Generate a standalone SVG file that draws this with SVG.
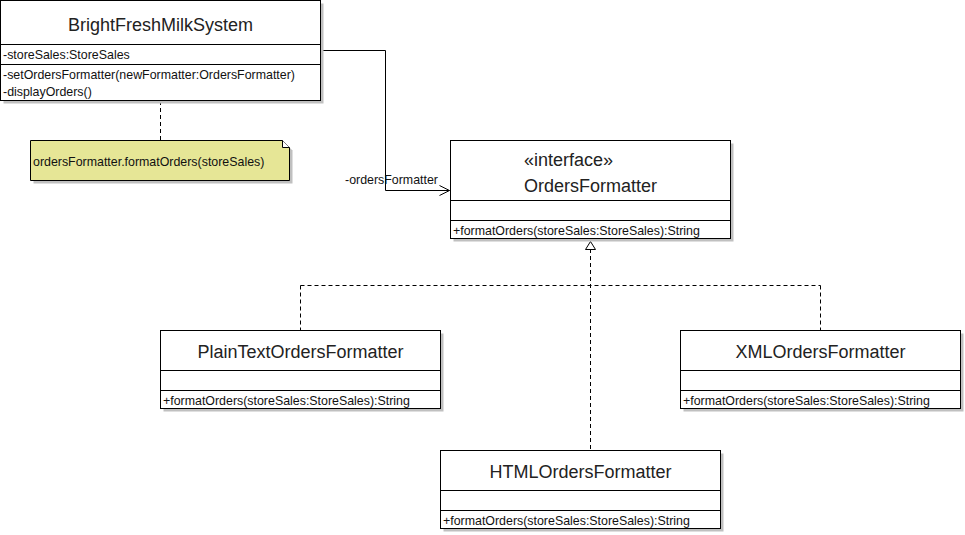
<svg xmlns="http://www.w3.org/2000/svg" width="965" height="535" viewBox="0 0 965 535">
<defs>
<style>
.box{fill:#ffffff;stroke:#000000;stroke-width:1}
.sh{fill:#c0c0c0;stroke:none}
.ln{stroke:#000000;stroke-width:1;fill:none}
.dash{stroke:#000000;stroke-width:1;fill:none;stroke-dasharray:4 3}
.title{font-family:"Liberation Sans",Arial,sans-serif;font-size:18px;fill:#222222}
.mem{font-family:"Liberation Sans",Arial,sans-serif;font-size:12.4px;fill:#111111}
</style>
<marker id="open" markerWidth="12" markerHeight="12" refX="11" refY="6" orient="auto" markerUnits="userSpaceOnUse">
<path d="M1,1 L11,6 L1,11" fill="none" stroke="#000" stroke-width="1"/>
</marker>
</defs>
<rect width="965" height="535" fill="#ffffff"/>

<g id="connectors">
<path class="ln" d="M320.5,50.5 H385.5 V190.5 H449.5" marker-end="url(#open)"/>
<text class="mem" x="345" y="184">-ordersFormatter</text>
<path class="dash" d="M160.5,101 V140"/>
<path class="dash" d="M590.5,249 V450"/>
<path class="dash" d="M300.5,285.5 H820.5"/>
<path class="dash" d="M300.5,285.5 V330"/>
<path class="dash" d="M820.5,285.5 V330"/>
<path d="M590.5,241.5 L595.5,249.5 L585.5,249.5 Z" fill="#ffffff" stroke="#000" stroke-width="1"/>
</g>

<g id="BrightFreshMilkSystem">
<rect class="sh" x="3.5" y="3.5" width="320" height="100"/>
<rect class="box" x="0.5" y="0.5" width="320" height="100"/>
<path class="ln" d="M0.5,44.5 H320.5 M0.5,64.5 H320.5"/>
<text class="title" x="160.5" y="31" text-anchor="middle">BrightFreshMilkSystem</text>
<text class="mem" x="3" y="59">-storeSales:StoreSales</text>
<text class="mem" x="3" y="79">-setOrdersFormatter(newFormatter:OrdersFormatter)</text>
<text class="mem" x="3" y="96">-displayOrders()</text>
</g>

<g id="note">
<path d="M33.5,143.5 H285.5 L292.5,150.5 V183.5 H33.5 Z" fill="#c0c0c0"/>
<path d="M30.5,140.5 H282.5 L289.5,147.5 V180.5 H30.5 Z" fill="#e6e696" stroke="#000" stroke-width="1"/>
<path d="M282.5,140.5 V147.5 H289.5" fill="#ffffff" stroke="#000" stroke-width="1"/>
<text class="mem" x="33" y="166">ordersFormatter.formatOrders(storeSales)</text>
</g>

<g id="OrdersFormatter">
<rect class="sh" x="453.5" y="143.5" width="280" height="98"/>
<rect class="box" x="450.5" y="140.5" width="280" height="98"/>
<path class="ln" d="M450.5,200.5 H730.5 M450.5,220.5 H730.5"/>
<text class="title" x="524" y="166">«interface»</text>
<text class="title" x="524" y="192">OrdersFormatter</text>
<text class="mem" x="453" y="235">+formatOrders(storeSales:StoreSales):String</text>
</g>

<g id="PlainTextOrdersFormatter">
<rect class="sh" x="163.5" y="333.5" width="280" height="78"/>
<rect class="box" x="160.5" y="330.5" width="280" height="78"/>
<path class="ln" d="M160.5,370.5 H440.5 M160.5,390.5 H440.5"/>
<text class="title" x="300.5" y="358" text-anchor="middle">PlainTextOrdersFormatter</text>
<text class="mem" x="163" y="405">+formatOrders(storeSales:StoreSales):String</text>
</g>

<g id="XMLOrdersFormatter">
<rect class="sh" x="683.5" y="333.5" width="280" height="78"/>
<rect class="box" x="680.5" y="330.5" width="280" height="78"/>
<path class="ln" d="M680.5,370.5 H960.5 M680.5,390.5 H960.5"/>
<text class="title" x="820.5" y="358" text-anchor="middle">XMLOrdersFormatter</text>
<text class="mem" x="683" y="405">+formatOrders(storeSales:StoreSales):String</text>
</g>

<g id="HTMLOrdersFormatter">
<rect class="sh" x="443.5" y="453.5" width="280" height="78"/>
<rect class="box" x="440.5" y="450.5" width="280" height="78"/>
<path class="ln" d="M440.5,490.5 H720.5 M440.5,510.5 H720.5"/>
<text class="title" x="580.5" y="478" text-anchor="middle">HTMLOrdersFormatter</text>
<text class="mem" x="443" y="525">+formatOrders(storeSales:StoreSales):String</text>
</g>
</svg>
